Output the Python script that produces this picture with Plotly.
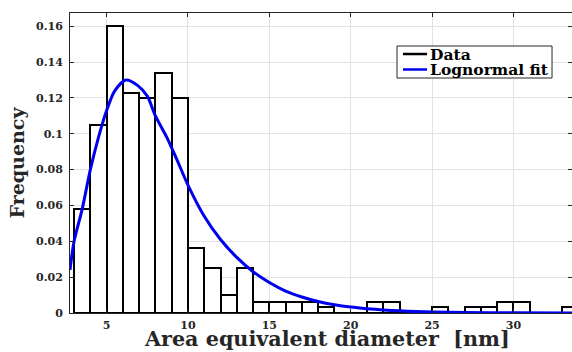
import plotly.graph_objects as go

# Histogram data (bin left edges, bin width 1 nm) and relative frequencies
bin_left = [3, 4, 5, 6, 7, 8, 9, 10, 11, 12, 13, 14, 15, 16, 17, 18, 19, 20,
            21, 22, 23, 24, 25, 26, 27, 28, 29, 30, 31, 32, 33]
freq = [0.058, 0.105, 0.160, 0.123, 0.120, 0.134, 0.120, 0.036, 0.025, 0.010,
        0.025, 0.0064, 0.0064, 0.0064, 0.0064, 0.0032, 0.0, 0.0,
        0.0062, 0.0062, 0.0, 0.0, 0.0031, 0.0, 0.0031, 0.0031, 0.0062, 0.0062,
        0.0, 0.0, 0.0031]
bin_width = 1.0

# Lognormal fit curve
fit_x = [2.75, 3.0, 3.5, 4.0, 4.5, 5.0, 5.5, 6.2, 6.9, 7.5, 8.0, 8.7, 9.3,
         10.0, 11.0, 12.0, 13.0, 14.0, 15.0, 16.0, 17.0, 18.0, 19.0, 20.0,
         21.0, 22.0, 23.0, 24.0, 25.0, 27.0, 30.0, 33.6]
fit_y = [0.024, 0.040, 0.058, 0.080, 0.098, 0.113, 0.124, 0.130, 0.127, 0.121,
         0.110, 0.098, 0.086, 0.0714, 0.054, 0.041, 0.031, 0.023, 0.0170,
         0.0122, 0.0089, 0.0064, 0.0046, 0.0033, 0.0024, 0.0017, 0.0012,
         0.0009, 0.0006, 0.0003, 0.0001, 0.0]

x_ticks = [5, 10, 15, 20, 25, 30]
y_ticks = [0, 0.02, 0.04, 0.06, 0.08, 0.1, 0.12, 0.14, 0.16]
y_tick_text = ["0", "0.02", "0.04", "0.06", "0.08", "0.1", "0.12", "0.14", "0.16"]

x_title = "Area equivalent diameter\u00a0 [nm]"
y_title = "Frequency"
legend_names = ["Data", "Lognormal fit"]
legend_colors = ["black", "#0000f0"]

FONT = "DejaVu Serif"
AX = "#262626"

fig = go.Figure()
fig.add_trace(go.Bar(
    x=bin_left, y=freq, width=bin_width, offset=0,
    marker=dict(color="white", line=dict(color="black", width=2)),
    name=legend_names[0], showlegend=False, hoverinfo="skip"))
fig.add_trace(go.Scatter(
    x=fit_x, y=fit_y, mode="lines", name=legend_names[1], showlegend=False,
    line=dict(color=legend_colors[1], width=3, shape="spline", smoothing=0.8)))

# Legend box drawn manually (compact, MATLAB-like)
fig.add_shape(type="rect", xref="paper", yref="paper",
              x0=0.6514, x1=0.9602, y0=0.7833, y1=0.89,
              line=dict(color=AX, width=1), fillcolor="white", layer="above")
for i, (nm, col) in enumerate(zip(legend_names, legend_colors)):
    yy = 0.8633 - i * 0.0516
    fig.add_shape(type="line", xref="paper", yref="paper",
                  x0=0.6633, x1=0.7112, y0=yy, y1=yy,
                  line=dict(color=col, width=2.5), layer="above")
    fig.add_annotation(xref="paper", yref="paper", x=0.7131, y=yy,
                       xanchor="left", yanchor="middle", showarrow=False,
                       text=nm,
                       font=dict(family=FONT, size=15.5, color="black", weight="bold"))

# x-axis title as annotation (positioned like the reference)
fig.add_annotation(xref="paper", yref="paper", x=0.511, y=-0.040,
                   xanchor="center", yanchor="top", showarrow=False,
                   text=x_title,
                   font=dict(family=FONT, size=20.7, color="#262626", weight="bold"))

fig.update_layout(
    width=572, height=352,
    margin=dict(l=70, r=0, t=13, b=39),
    paper_bgcolor="white", plot_bgcolor="white",
    bargap=0,
    font=dict(family=FONT, color="#262626"),
    xaxis=dict(
        range=[2.75, 33.6], tickvals=x_ticks, automargin=False,
        ticks="inside", ticklen=4, tickcolor=AX,
        showline=True, linecolor=AX, linewidth=1, mirror="ticks",
        showgrid=True, gridcolor="#e2e2e2", gridwidth=1, zeroline=False,
        tickfont=dict(family=FONT, size=11, color="#262626", weight="bold"),
        ticklabelstandoff=2),
    yaxis=dict(
        range=[0, 0.1674], tickvals=y_ticks, ticktext=y_tick_text, automargin=False,
        ticks="inside", ticklen=4, tickcolor=AX,
        showline=True, linecolor=AX, linewidth=1, mirror="ticks",
        showgrid=True, gridcolor="#e2e2e2", gridwidth=1, zeroline=False,
        tickfont=dict(family=FONT, size=11, color="#262626", weight="bold"),
        ticklabelstandoff=4,
        title=dict(text=y_title,
                   font=dict(family=FONT, size=19, color="#262626", weight="bold"),
                   standoff=6)),
)

fig.write_html("out.html")
